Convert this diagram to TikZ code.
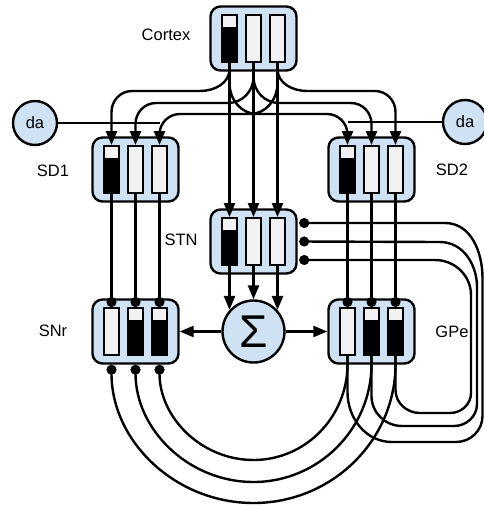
\documentclass[tikz,border=0pt]{standalone}
\usepackage{fontspec}
\setmainfont{Liberation Sans}
\usetikzlibrary{arrows.meta}
\definecolor{boxblue}{RGB}{207,226,243}
\definecolor{barlight}{RGB}{242,242,242}

\begin{document}
\begin{tikzpicture}[x=1pt, y=1pt, every node/.style={font=\fontsize{16.5}{19}\selectfont},
  area/.style={draw, line width=2.4pt, rounded corners=10pt, fill=boxblue, minimum width=86pt, minimum height=64pt, inner sep=0pt},
  bar/.style={draw, line width=2pt, fill=black, minimum width=15pt, minimum height=47pt, inner sep=0pt,
    path picture={\fill[barlight] (path picture bounding box.north west) rectangle ([yshift=#1]path picture bounding box.south east);}},
  dacirc/.style={circle, draw, line width=2.4pt, fill=boxblue, minimum size=44pt, inner sep=0pt},
  conn/.style={line width=2.4pt},
  exc/.style={conn, -{Triangle[length=14pt, width=11pt]}},
  inh/.style={conn, -{Circle[length=10pt]}}]
  \useasboundingbox (0,0) rectangle (484,-506);
  % Nucleos
  \node[area] (ctx) at (253.5,-38.5) {};
  \node[area] (sd1) at (135.5,-169.5) {};
  \node[area] (sd2) at (371.5,-169.5) {};
  \node[area] (stn) at (253.5,-241.5) {};
  \node[area] (snr) at (135.5,-331.5) {};
  \node[area] (gpe) at (371.5,-331.5) {};
  % Canales (barras)
  \foreach \bx/\ha/\hb/\hc in {ctx/35pt/0pt/0pt, sd1/35pt/0pt/0pt, sd2/35pt/0pt/0pt, stn/35pt/0pt/0pt, snr/0pt/35pt/35pt, gpe/0pt/35pt/35pt} {
    \node[bar=\ha] (\bx-1) at ([xshift=-24pt]\bx.center) {};
    \node[bar=\hb] (\bx-2) at (\bx.center) {};
    \node[bar=\hc] (\bx-3) at ([xshift=24pt]\bx.center) {};
  }
  % Etiquetas
  \node (ctxlbl) at (166,-35) {Cortex};
  \node (sd1lbl) at (53,-171) {SD1};
  \node (sd2lbl) at (452,-170) {SD2};
  \node (stnlbl) at (181,-240) {STN};
  \node (snrlbl) at (53,-331) {SNr};
  \node (gpelbl) at (452,-332) {GPe};
  % Dopamina y suma
  \node[dacirc] (daL) at (35,-123) {da};
  \node[dacirc] (daR) at (465,-122) {da};
  \node[circle, draw, line width=2.4pt, fill=boxblue, minimum size=62pt, inner sep=0pt, font=\fontsize{46}{50}\selectfont] (sum) at (253.5,-331.5) {Σ};
  \draw[conn] (daL) -- (daL -| sd1-3);
  \draw[conn] (daR) -- (daR -| sd2-1);
  % Corteza -> STN
  \foreach \i in {1,2,3} \draw[exc] (ctx-\i.south) -- (stn-\i.north);
  % Corteza -> SD1
  \draw[exc] (ctx-1.south) -- ++(0,-6) to[out=-90,in=0] (200,-91) -- (132,-91) to[out=180,in=90] (111.5,-112) -- (sd1-1.north);
  \draw[exc] (ctx-2.south) -- ++(0,-14) to[out=-90,in=0] (228,-103) -- (156,-103) to[out=180,in=90] (135.5,-124) -- (sd1-2.north);
  \draw[exc] (ctx-3.south) -- ++(0,-20) to[out=-90,in=0] (250,-114) -- (180,-114) to[out=180,in=90] (159.5,-134.5) -- (sd1-3.north);
  % Corteza -> SD2
  \draw[exc] (ctx-3.south) -- ++(0,-6) to[out=-90,in=180] (307,-91) -- (375,-91) to[out=0,in=90] (395.5,-112) -- (sd2-3.north);
  \draw[exc] (ctx-2.south) -- ++(0,-14) to[out=-90,in=180] (279,-103) -- (351,-103) to[out=0,in=90] (371.5,-124) -- (sd2-2.north);
  \draw[exc] (ctx-1.south) -- ++(0,-20) to[out=-90,in=180] (257,-114) -- (327,-114) to[out=0,in=90] (347.5,-134.5) -- (sd2-1.north);
  % SD1 -> SNr, SD2 -> GPe (inhibicion)
  \foreach \i in {1,2,3} {
    \draw[inh] (sd1-\i.south) -- (snr-\i.north);
    \draw[inh] (sd2-\i.south) -- (gpe-\i.north);
  }
  % STN -> suma -> SNr / GPe
  \draw[exc] (stn-1.south) -- (stn-1.south |- sum.138);
  \draw[exc] (stn-2.south) -- (sum.north);
  \draw[exc] (stn-3.south) -- (stn-3.south |- sum.42);
  \draw[exc] (sum) -- (snr);
  \draw[exc] (sum) -- (gpe);
  % GPe -> STN
  \coordinate (stnin1) at ([xshift=1.5pt,yshift=18.5pt]stn.east);
  \coordinate (stnin2) at ([xshift=1.5pt]stn.east);
  \coordinate (stnin3) at ([xshift=1.5pt,yshift=-18.5pt]stn.east);
  \draw[inh] (gpe-1.south) -- (347.5,-392) to[out=-90,in=180] (392,-442) -- (456,-442) to[out=0,in=-90] (482.5,-416) -- (482.5,-278) to[out=90,in=0] (445,-223) -- (stnin1);
  \draw[inh] (gpe-2.south) -- (371.5,-396) to[out=-90,in=180] (402,-426) -- (454,-426) to[out=0,in=-90] (477,-404) -- (477,-287) to[out=90,in=0] (440,-242) -- (stnin2);
  \draw[inh] (gpe-3.south) -- (395.5,-390) to[out=-90,in=180] (420,-413) -- (450,-413) to[out=0,in=-90] (471,-393) -- (471,-295) to[out=90,in=0] (435,-260) -- (stnin3);
  % GPe -> SNr
  \draw[inh] (gpe-1.south) -- ++(0,-8) .. controls +(0,-53) and +(52,0) .. (253.5,-460) .. controls +(-52,0) and +(0,-53) .. (snr-3 |- snr.south);
  \draw[inh] (gpe-2.south) -- ++(0,-8) .. controls +(0,-65) and +(65,0) .. (253.5,-482) .. controls +(-65,0) and +(0,-65) .. (snr-2 |- snr.south);
  \draw[inh] (gpe-3.south) -- ++(0,-8) .. controls +(0,-77) and +(78,0) .. (253.5,-503) .. controls +(-78,0) and +(0,-77) .. (snr-1 |- snr.south);
\end{tikzpicture}
\end{document}
